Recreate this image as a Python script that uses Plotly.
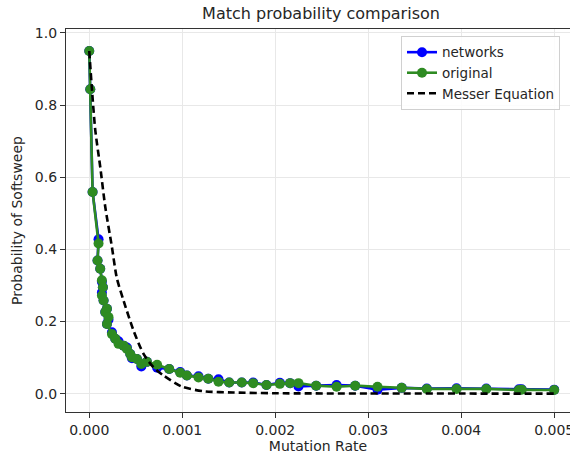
import plotly.graph_objects as go

# ---- data ----
mutation_rate = [0.0, 0.000011, 0.000036, 0.000100, 0.000089, 0.000118, 0.000136, 0.000147,
                 0.000136, 0.000154, 0.000190, 0.000172, 0.000207, 0.000190, 0.000244, 0.000280,
                 0.000315, 0.000369, 0.000405, 0.000441, 0.000459, 0.000513, 0.000560, 0.000620,
                 0.000730, 0.000860, 0.000978, 0.001050, 0.001175, 0.001280, 0.001390, 0.001505,
                 0.001640, 0.001763, 0.001906, 0.002050, 0.002160, 0.002250, 0.002440, 0.002660,
                 0.002860, 0.003100, 0.003360, 0.003630, 0.003950, 0.004270, 0.004620, 0.004650,
                 0.005000]
original = [0.950, 0.844, 0.559, 0.416, 0.369, 0.346, 0.314, 0.295, 0.272, 0.258, 0.235, 0.226,
            0.212, 0.193, 0.165, 0.152, 0.138, 0.133, 0.124, 0.110, 0.101, 0.096, 0.082, 0.088,
            0.080, 0.068, 0.058, 0.050, 0.045, 0.041, 0.033, 0.031, 0.031, 0.029, 0.024, 0.027,
            0.029, 0.029, 0.022, 0.019, 0.022, 0.019, 0.016, 0.013, 0.013, 0.013, 0.010, 0.011,
            0.010]
networks = [0.950, 0.844, 0.559, 0.428, 0.369, 0.346, 0.310, 0.295, 0.280, 0.258, 0.235, 0.226,
            0.205, 0.193, 0.170, 0.152, 0.145, 0.133, 0.128, 0.110, 0.098, 0.096, 0.075, 0.088,
            0.072, 0.068, 0.060, 0.050, 0.048, 0.041, 0.040, 0.031, 0.031, 0.031, 0.024, 0.030,
            0.029, 0.020, 0.022, 0.024, 0.022, 0.011, 0.016, 0.014, 0.015, 0.014, 0.012, 0.012,
            0.011]

messer_x = [0.0, 0.00003, 0.000065, 0.00012, 0.000172, 0.000244, 0.000297, 0.000369, 0.000476,
            0.000584, 0.00069, 0.0008, 0.001, 0.00123, 0.00155, 0.002, 0.003, 0.004, 0.005]
messer_y = [0.95, 0.84, 0.73, 0.625, 0.518, 0.406, 0.32, 0.258, 0.175, 0.11, 0.073, 0.05,
            0.019, 0.0065, 0.003, 0.001, 0.0003, 0.0001, 0.0]

x_ticks = [0.0, 0.001, 0.002, 0.003, 0.004, 0.005]
y_ticks = [0.0, 0.2, 0.4, 0.6, 0.8, 1.0]

TEXT = "#262626"
FONT = "DejaVu Sans"

fig = go.Figure()
fig.add_trace(go.Scatter(x=mutation_rate, y=networks, mode="lines+markers", name="networks",
                         line=dict(color="blue", width=2.6),
                         marker=dict(color="blue", size=10, symbol="circle")))
fig.add_trace(go.Scatter(x=mutation_rate, y=original, mode="lines+markers", name="original",
                         line=dict(color="#2e8b22", width=2.6),
                         marker=dict(color="#2e8b22", size=10, symbol="circle")))
fig.add_trace(go.Scatter(x=messer_x, y=messer_y, mode="lines", name="Messer Equation",
                         line=dict(color="black", width=2.6, dash="7px,4px", shape="spline",
                                   smoothing=0.7)))

fig.update_layout(
    width=570, height=455,
    margin=dict(l=66, r=0, t=29, b=43, autoexpand=False),
    paper_bgcolor="white", plot_bgcolor="white",
    font=dict(family=FONT, size=14, color=TEXT),
    title=dict(text="Match probability comparison", x=321 / 570, xanchor="center",
               y=1 - 13 / 455, yanchor="middle", font=dict(size=16, color=TEXT)),
    showlegend=True,
    legend=dict(x=(401 - 66) / 504, y=0.982, xanchor="left", yanchor="top",
                bgcolor="rgba(255,255,255,0.85)", bordercolor="#d0d0d0", borderwidth=1,
                font=dict(size=13.5, color=TEXT), tracegroupgap=0),
)
fig.update_xaxes(range=[-0.00025, 0.00517], tickvals=x_ticks, tickformat=".3f",
                 automargin=False, ticklabeloverflow="allow",
                 showgrid=True, gridcolor="#e8e8e8", gridwidth=1, zeroline=False,
                 showline=True, linecolor="#333333", linewidth=1.2, mirror=True,
                 ticks="outside", ticklen=5, tickcolor="#333333",
                 title=dict(text="Mutation Rate", standoff=4, font=dict(size=14)))
fig.update_yaxes(range=[-0.051, 1.011], tickvals=y_ticks, tickformat=".1f",
                 automargin=False,
                 showgrid=True, gridcolor="#e8e8e8", gridwidth=1, zeroline=False,
                 showline=True, linecolor="#333333", linewidth=1.2, mirror=False,
                 ticks="outside", ticklen=5, tickcolor="#333333",
                 title=dict(text="Probability of Softsweep", standoff=8, font=dict(size=14)))

fig.write_html("out.html", config={"displayModeBar": False},
               post_script="document.body.style.margin='0';")
